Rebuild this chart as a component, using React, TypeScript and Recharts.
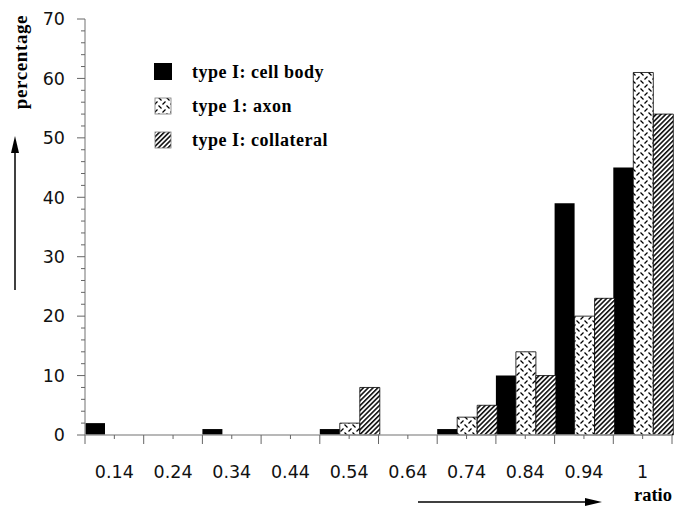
import React from 'react';
import { BarChart, Bar, XAxis, YAxis, Legend } from 'recharts';

const categories = ['0.14', '0.24', '0.34', '0.44', '0.54', '0.64', '0.74', '0.84', '0.94', '1'];
const cellBody = [2, 0, 1, 0, 1, 0, 1, 10, 39, 45];
const axon = [0, 0, 0, 0, 2, 0, 3, 14, 20, 61];
const collateral = [0, 0, 0, 0, 8, 0, 5, 10, 23, 54];
const yTicks = [0, 2, 4, 6, 8, 10, 12, 14, 16, 18, 20, 22, 24, 26, 28, 30, 32, 34, 36, 38, 40, 42, 44, 46, 48, 50, 52, 54, 56, 58, 60, 62, 64, 66, 68, 70];
const seriesNames = ['type I: cell body', 'type 1: axon', 'type I: collateral'];

const data = categories.map((c, i) => ({
  label: c,
  cell: cellBody[i],
  axon: axon[i],
  coll: collateral[i],
}));

const AXIS_GRAY = '#a0a0a0';
const TICK_COLOR = '#666';
const TICK_FONT = '"DejaVu Sans", Verdana, sans-serif';
const SERIF = '"Liberation Serif", "DejaVu Serif", serif';

function YTick(props: any) {
  const { x, y, payload } = props;
  const v = payload.value;
  const major = v % 10 === 0;
  return (
    <g>
      <line x1={x - (major ? 8 : 4)} y1={y} x2={x} y2={y} stroke={TICK_COLOR} strokeWidth={1} />
      {major && (
        <text x={x - 20} y={y} dy="0.36em" textAnchor="end" fontFamily={TICK_FONT} fontSize={17.5} fill="#111">
          {v}
        </text>
      )}
    </g>
  );
}

function halfBand(props: any) {
  const { payload, width, visibleTicksCount } = props;
  if (payload && payload.offset) return payload.offset;
  return width / visibleTicksCount / 2;
}

function BottomTick(props: any) {
  const { x, y, payload, index, visibleTicksCount } = props;
  const off = halfBand(props);
  const last = index === visibleTicksCount - 1;
  return (
    <g>
      <line x1={x} y1={y} x2={x} y2={y + 4} stroke={TICK_COLOR} />
      <line x1={x - off} y1={y} x2={x - off} y2={y + 9} stroke={TICK_COLOR} />
      {last && <line x1={x + off} y1={y} x2={x + off} y2={y + 9} stroke={TICK_COLOR} />}
      <text x={x} y={y + 43} textAnchor="middle" fontFamily={TICK_FONT} fontSize={17.5} fill="#111">
        {payload.value}
      </text>
    </g>
  );
}

function TopTick(props: any) {
  const { x, y, index, visibleTicksCount } = props;
  const off = halfBand(props);
  const last = index === visibleTicksCount - 1;
  return (
    <g>
      <line x1={x} y1={y} x2={x} y2={y - 4} stroke={TICK_COLOR} />
      <line x1={x - off} y1={y} x2={x - off} y2={y - 8} stroke={TICK_COLOR} />
      {last && <line x1={x + off} y1={y} x2={x + off} y2={y - 8} stroke={TICK_COLOR} />}
    </g>
  );
}

function renderLegend(props: any) {
  const payload = [...(props.payload || [])].sort(
    (a: any, b: any) => seriesNames.indexOf(a.value) - seriesNames.indexOf(b.value)
  );
  return (
    <svg width={220} height={100} style={{ overflow: 'visible' }}>
      {payload.map((p: any, i: number) => (
        <g key={i} transform={`translate(0, ${i * 34})`}>
          <rect
            x={i === 0 ? 4 : 5}
            y={i === 0 ? 0 : 1}
            width={i === 0 ? 18 : 16}
            height={i === 0 ? 17 : 16}
            fill={p.color}
            stroke={i === 0 ? '#000' : '#777'}
            strokeWidth={i === 0 ? 0 : 0.8}
          />
          <text x={42} y={15} fontFamily={SERIF} fontWeight="bold" fontSize={18} letterSpacing={0.5} fill="#000">
            {p.value}
          </text>
        </g>
      ))}
    </svg>
  );
}

export default function App() {
  return (
    <div style={{ position: 'absolute', left: 0, top: 0, width: 678, height: 508, background: '#fff' }}>
      <BarChart
        width={678}
        height={508}
        data={data}
        margin={{ top: 19, right: 6, bottom: 0, left: 0 }}
        barCategoryGap={0}
        barGap={0}
      >
        <defs>
          <pattern id="hatchPat" patternUnits="userSpaceOnUse" width={3.4} height={3.4} patternTransform="rotate(45)">
            <rect width={3.4} height={3.4} fill="#fff" />
            <line x1={0.8} y1={0} x2={0.8} y2={3.4} stroke="#000" strokeWidth={1.5} />
          </pattern>
          <pattern id="axonPat" patternUnits="userSpaceOnUse" width={8} height={8}>
            <rect width={8} height={8} fill="#fff" />
            <line x1={0.5} y1={0.5} x2={3.5} y2={3.5} stroke="#000" strokeWidth={1.3} />
            <line x1={4.5} y1={7.5} x2={7.5} y2={4.5} stroke="#000" strokeWidth={1.3} />
          </pattern>
        </defs>
        <XAxis
          dataKey="label"
          height={73}
          tickSize={0}
          tickMargin={0}
          tickLine={false}
          interval={0}
          axisLine={{ stroke: AXIS_GRAY, strokeWidth: 1.5 }}
          tick={BottomTick}
        />
        <XAxis
          xAxisId="top"
          dataKey="label"
          orientation="top"
          height={0}
          tickSize={0}
          tickMargin={0}
          tickLine={false}
          interval={0}
          axisLine={{ stroke: AXIS_GRAY, strokeWidth: 1.5 }}
          tick={TopTick}
        />
        <YAxis
          width={85}
          domain={[0, 70]}
          ticks={yTicks}
          interval={0}
          tickSize={0}
          tickMargin={0}
          tickLine={false}
          axisLine={{ stroke: AXIS_GRAY, strokeWidth: 1.5 }}
          tick={YTick}
        />
        <YAxis
          yAxisId="r"
          orientation="right"
          mirror
          width={0}
          domain={[0, 70]}
          ticks={yTicks}
          interval={0}
          tickSize={4}
          tick={false}
          tickLine={{ stroke: '#bbb' }}
          axisLine={{ stroke: '#cfcfcf', strokeDasharray: '6 2' }}
        />
        <Legend
          layout="vertical"
          verticalAlign="middle"
          align="center"
          content={renderLegend}
          wrapperStyle={{ position: 'absolute', left: 150, top: 63, width: 220, height: 100 }}
        />
        <Bar dataKey="cell" name={seriesNames[0]} fill="#000" isAnimationActive={false} />
        <Bar dataKey="axon" name={seriesNames[1]} fill="url(#axonPat)" stroke="#000" strokeWidth={0.8} isAnimationActive={false} />
        <Bar dataKey="coll" name={seriesNames[2]} fill="url(#hatchPat)" stroke="#000" strokeWidth={0.8} isAnimationActive={false} />
      </BarChart>
      <svg
        width={678}
        height={508}
        style={{ position: 'absolute', left: 0, top: 0, pointerEvents: 'none' }}
      >
        <text
          x={27}
          y={62}
          transform="rotate(-90, 27, 62)"
          textAnchor="middle"
          fontFamily={SERIF}
          fontWeight="bold"
          fontSize={19}
          letterSpacing={0.6}
          fill="#000"
        >
          percentage
        </text>
        <line x1={15} y1={290} x2={15} y2={146} stroke="#000" strokeWidth={1.5} />
        <polygon points="15,136 11,153 19,153" fill="#000" />
        <line x1={418} y1={502} x2={592} y2={502} stroke="#000" strokeWidth={1.5} />
        <polygon points="602,502 585,498 585,506" fill="#000" />
        <text x={634} y={501} fontFamily={SERIF} fontWeight="bold" fontSize={18.5} fill="#000">
          ratio
        </text>
      </svg>
    </div>
  );
}
